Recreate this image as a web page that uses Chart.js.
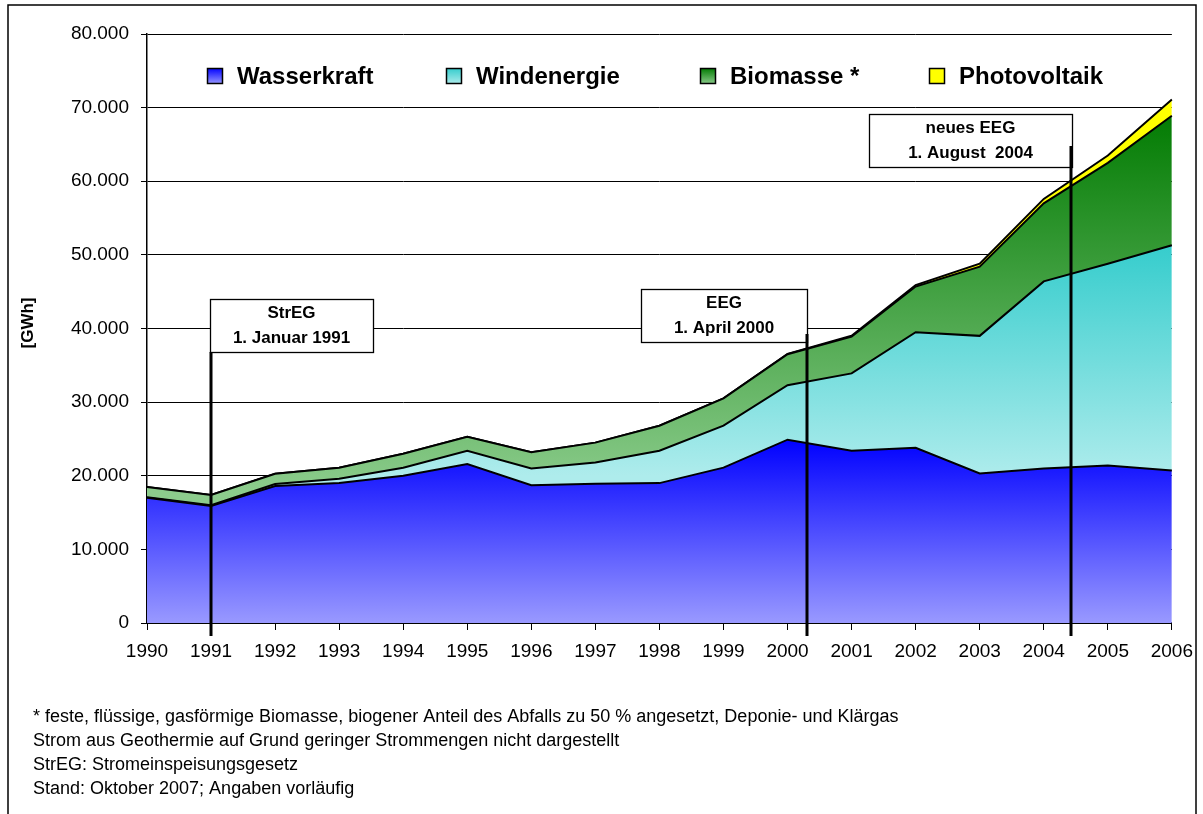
<!DOCTYPE html>
<html>
<head>
<meta charset="utf-8">
<script src="https://cdn.jsdelivr.net/npm/chart.js@4/dist/chart.umd.min.js"></script>
<style>
html,body{margin:0;padding:0;background:#fff;}
#wrap{width:1203px;height:814px;position:relative;}
</style>
</head>
<body>
<div id="wrap"><canvas id="c" width="1203" height="814"></canvas></div>
<script>
// ---- data (GWh) ----
const years = ['1990','1991','1992','1993','1994','1995','1996','1997','1998','1999','2000','2001','2002','2003','2004','2005','2006'];
const wasserkraft = [17000,15900,18600,19000,20000,21600,18700,18900,19000,21100,24900,23400,23800,20300,21000,21400,20700];
const windenergie = [70,100,280,600,1100,1800,2300,2900,4400,5700,7400,10500,15700,18700,25400,27400,30600];
const biomasse = [1400,1400,1400,1500,1900,1900,2200,2700,3400,3700,4200,5000,6200,9400,10600,13700,17600];
const photovoltaik = [0,0,0,0,0,0,0,0,0,0,60,120,200,400,600,1000,2200];
const seriesLabels = ['Wasserkraft','Windenergie','Biomasse *','Photovoltaik'];
const yTicks = [0,10000,20000,30000,40000,50000,60000,70000,80000];
const yTitle = '[GWh]';
const eventTexts = [['StrEG','1. Januar 1991'],['EEG','1. April 2000'],['neues EEG','1. August  2004']];
const eventPos = [1, 10.31, 14.43];
const footnotes = [
  '* feste, flüssige, gasförmige Biomasse, biogener Anteil des Abfalls zu 50 % angesetzt, Deponie- und Klärgas',
  'Strom aus Geothermie auf Grund geringer Strommengen nicht dargestellt',
  'StrEG: Stromeinspeisungsgesetz',
  'Stand: Oktober 2007; Angaben vorläufig'
];

const FONT = '"Liberation Sans", Arial, Helvetica, sans-serif';

// gradient specs: [topValue, topColor, bottomValue, bottomColor]
const gradSpecs = [
  [25000,'#0000ff',0,'#9999ff'],
  [52000,'#33cccc',20000,'#aeecec'],
  [70000,'#007a00',18000,'#8ccc8c'],
  null
];
const solid = ['#6666ff','#66d6d6','#3f9f3f','#ffff00'];

function fillFor(i){
  return function(context){
    const chart = context.chart;
    const spec = gradSpecs[i];
    if (!spec || !chart.chartArea) return solid[i];
    const y = chart.scales.y;
    const g = chart.ctx.createLinearGradient(0, y.getPixelForValue(spec[0]), 0, y.getPixelForValue(spec[2]));
    g.addColorStop(0, spec[1]);
    g.addColorStop(1, spec[3]);
    return g;
  };
}

function fmt(v){
  return String(v).replace(/\B(?=(\d{3})+(?!\d))/g, '.');
}

const overlay = {
  id: 'overlay',
  afterDatasetsDraw(chart){
    const ctx = chart.ctx;
    const x = chart.scales.x;
    ctx.save();
    const boxes = [
      {left:-1, width:163, top:299, h:53, lineStart:352},
      {left:-166, width:166, top:289, h:53, lineStart:334},
      {left:-202, width:203, top:114, h:53, lineStart:146}
    ];
    eventPos.forEach((p,i)=>{
      const lx = Math.round(x.getPixelForValue(p));
      const b = boxes[i];
      const bx = lx + b.left;
      ctx.fillStyle = '#fff';
      ctx.fillRect(bx, b.top, b.width, b.h);
      ctx.strokeStyle = '#000';
      ctx.lineWidth = 1.3;
      ctx.strokeRect(bx+0.5, b.top+0.5, b.width, b.h);
      ctx.beginPath();
      ctx.lineWidth = 3;
      ctx.moveTo(lx, b.lineStart);
      ctx.lineTo(lx, 636);
      ctx.stroke();
      ctx.fillStyle = '#000';
      ctx.font = 'bold 17px ' + FONT;
      ctx.textAlign = 'center';
      ctx.textBaseline = 'middle';
      const cx = bx + b.width/2;
      ctx.fillText(eventTexts[i][0], cx, b.top + 14);
      ctx.fillText(eventTexts[i][1], cx, b.top + 39);
    });
    ctx.restore();
  },
  afterDraw(chart){
    const ctx = chart.ctx;
    ctx.save();
    // legend
    const lx = [207, 446, 700, 929];
    ctx.font = 'bold 24px ' + FONT;
    ctx.textBaseline = 'middle';
    ctx.textAlign = 'left';
    seriesLabels.forEach((lab,i)=>{
      const bx = lx[i], by = 68;
      let fill;
      const spec = gradSpecs[i];
      if (spec){
        fill = ctx.createLinearGradient(0, by, 0, by+16);
        fill.addColorStop(0, spec[1]);
        fill.addColorStop(1, spec[3]);
      } else fill = solid[i];
      ctx.fillStyle = fill;
      ctx.fillRect(bx, by, 16, 16);
      ctx.strokeStyle = '#000';
      ctx.lineWidth = 1.5;
      ctx.strokeRect(bx+0.5, by+0.5, 15, 15);
      ctx.fillStyle = '#000';
      ctx.fillText(lab, bx + 30, 77);
    });
    // y title
    ctx.save();
    ctx.translate(28, 323);
    ctx.rotate(-Math.PI/2);
    ctx.font = 'bold 17px ' + FONT;
    ctx.textAlign = 'center';
    ctx.textBaseline = 'middle';
    ctx.fillText(yTitle, 0, 0);
    ctx.restore();
    // footnotes
    ctx.font = '18px ' + FONT;
    ctx.textAlign = 'left';
    ctx.textBaseline = 'middle';
    footnotes.forEach((t,i)=>{ ctx.fillText(t, 33, 717 + i*24); });
    // outer frame
    ctx.strokeStyle = '#000';
    ctx.lineWidth = 1.5;
    ctx.strokeRect(8, 5, 1188, 830);
    ctx.restore();
  }
};

function ds(label, data, i){
  return {
    label, data,
    fill: i===0 ? 'origin' : '-1',
    backgroundColor: fillFor(i),
    borderColor: '#000',
    borderWidth: 2,
    pointRadius: 0,
    tension: 0
  };
}

new Chart(document.getElementById('c'), {
  type: 'line',
  data: {
    labels: years,
    datasets: [
      ds(seriesLabels[0], wasserkraft, 0),
      ds(seriesLabels[1], windenergie, 1),
      ds(seriesLabels[2], biomasse, 2),
      ds(seriesLabels[3], photovoltaik, 3)
    ]
  },
  options: {
    responsive: false,
    animation: false,
    layout: { padding: { left: 0, right: 30, top: 34, bottom: 0 } },
    plugins: { legend: { display: false }, tooltip: { enabled: false } },
    scales: {
      x: {
        offset: false,
        grid: { drawOnChartArea: false, drawTicks: true, tickLength: 7, color: '#000', lineWidth: 1 },
        border: { color: '#000', width: 2 },
        ticks: { color: '#000', font: { family: FONT, size: 19 }, padding: 10, maxRotation: 0, autoSkip: false },
        afterFit(s){ s.height = 191; }
      },
      y: {
        stacked: true,
        min: 0, max: 80000,
        afterBuildTicks(s){ s.ticks = yTicks.map(v=>({value:v})); },
        grid: { color: '#000', lineWidth: 1, tickLength: 6 },
        border: { color: '#000', width: 1.5 },
        ticks: { color: '#000', font: { family: FONT, size: 19 }, padding: 12, callback: v => fmt(v) },
        afterFit(s){ s.width = 147; }
      }
    }
  },
  plugins: [overlay]
});
</script>
</body>
</html>
